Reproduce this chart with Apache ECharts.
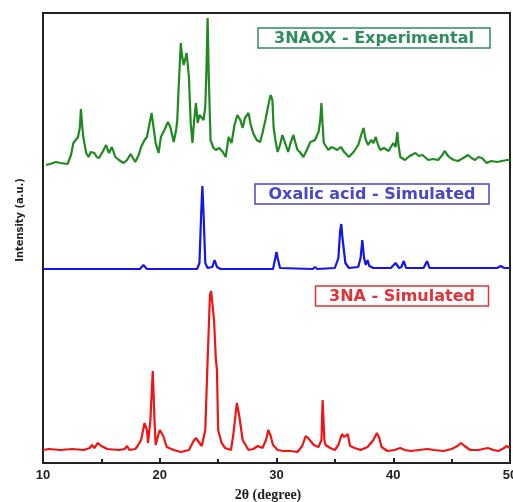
<!DOCTYPE html>
<html>
<head>
<meta charset="utf-8">
<script src="https://cdn.jsdelivr.net/npm/echarts@6/dist/echarts.min.js"></script>
<style>
  html, body { margin: 0; padding: 0; background: #fff; }
  #main { width: 513px; height: 502px; }
</style>
</head>
<body>
<div id="main"></div>
<script>
// 2theta (degree) vs intensity (a.u., with each pattern stacked on an offset)
const xTicks = [10, 20, 30, 40, 50];

const experimental = [
  [10.25,298],[10.6,299],[11.1,301],[11.5,300],[12.1,299],[12.4,308],[12.6,320],[13.0,326],[13.15,335],[13.25,354],
  [13.35,338],[13.45,326],[13.7,310],[13.9,306],[14.1,311],[14.4,310],[14.6,306],[14.8,305],[15.1,311],[15.4,318],
  [15.55,313],[15.65,310],[15.9,316],[16.2,306],[16.5,303],[16.9,300],[17.2,303],[17.5,309],[17.7,305],[17.9,301],
  [18.2,308],[18.4,316],[18.7,323],[18.9,326],[19.1,338],[19.3,350],[19.5,333],[19.65,320],[19.9,310],[20.1,326],
  [20.4,333],[20.7,341],[20.9,336],[21.2,321],[21.4,333],[21.5,343],[21.65,383],[21.8,420],[21.9,408],[22.05,398],
  [22.2,405],[22.3,410],[22.4,398],[22.5,386],[22.65,340],[22.8,320],[22.95,343],[23.1,360],[23.25,340],[23.4,348],
  [23.5,346],[23.75,343],[23.9,356],[24.0,393],[24.1,445],[24.2,386],[24.35,323],[24.6,315],[24.8,313],[25.1,315],
  [25.4,311],[25.65,306],[25.9,326],[26.15,320],[26.4,338],[26.65,348],[26.9,343],[27.1,335],[27.3,345],[27.6,350],
  [27.8,338],[28.0,330],[28.3,323],[28.6,321],[28.8,330],[29.05,343],[29.3,358],[29.5,368],[29.65,363],[29.75,336],
  [29.9,323],[30.1,311],[30.3,318],[30.5,328],[30.65,323],[30.8,323],[31.0,311],[31.2,320],[31.45,328],[31.6,321],
  [31.8,313],[32.0,311],[32.3,306],[32.6,313],[32.9,321],[33.1,322],[33.3,323],[33.6,331],[33.75,343],[33.85,360],
  [33.95,338],[34.05,320],[34.45,313],[34.7,316],[34.9,315],[35.2,313],[35.5,316],[35.8,311],[36.2,306],[36.6,311],
  [37.0,318],[37.25,328],[37.45,335],[37.65,323],[37.85,318],[38.1,323],[38.3,320],[38.5,326],[38.7,318],[38.9,313],
  [39.2,315],[39.6,312],[39.8,316],[40.0,320],[40.2,316],[40.35,331],[40.45,318],[40.6,306],[41.0,303],[41.4,307],
  [41.9,310],[42.2,307],[42.5,308],[43.0,303],[43.4,304],[43.85,303],[44.2,308],[44.4,312],[44.7,307],[44.9,305],
  [45.2,303],[45.55,302],[46.0,305],[46.4,308],[46.7,305],[47.0,303],[47.3,306],[47.6,305],[48.0,300],[48.4,302],
  [48.9,301],[49.3,302],[49.75,303],[50.0,303]
];

const oxalic = [
  [10,194],[18.3,194],[18.6,198],[18.9,194],[23.2,194],[23.4,200],[23.55,250],[23.65,277],[23.75,250],[23.9,200],
  [24.1,195],[24.5,196],[24.7,203],[24.9,196],[25.2,194],[29.7,194],[29.9,205],[30.0,211],[30.1,205],[30.3,195],
  [33.1,194],[33.3,196],[33.5,194],[35.0,195],[35.3,205],[35.45,232],[35.55,239],[35.65,225],[35.9,200],[36.2,195],
  [37.0,196],[37.2,205],[37.35,223],[37.5,205],[37.65,198],[37.8,203],[37.95,197],[38.3,195],[39.8,195],[40.2,200],
  [40.5,195],[40.7,196],[40.9,202],[41.1,195],[42.6,195],[42.9,202],[43.1,195],[48.9,195],[49.2,197],[49.5,195],[50,195]
];

const nitroaniline = [
  [10.0,13],[10.5,14],[11.5,13],[12.5,14],[13.5,13],[14.0,15],[14.2,18],[14.4,15],[14.7,20],[15.0,17],
  [15.5,14],[16.5,13],[17.0,14],[17.2,17],[17.4,13],[17.9,14],[18.1,17],[18.4,23],[18.7,40],[18.9,33],
  [19.0,20],[19.2,43],[19.4,92],[19.55,43],[19.65,18],[19.8,25],[20.0,33],[20.3,27],[20.6,16],[21.2,13],
  [21.8,11],[22.5,13],[22.9,22],[23.1,25],[23.4,20],[23.6,17],[23.9,33],[24.1,103],[24.3,168],[24.4,172],
  [24.55,170],[24.65,143],[24.8,105],[24.9,93],[25.0,33],[25.3,20],[25.6,15],[26.1,13],[26.3,28],[26.6,60],
  [26.8,48],[27.1,23],[27.6,13],[28.0,14],[28.4,17],[28.8,15],[29.1,23],[29.3,33],[29.5,27],[29.7,18],
  [30.1,13],[30.6,12],[31.2,12],[31.8,11],[32.2,17],[32.5,27],[32.7,25],[33.2,18],[33.6,16],[33.85,23],
  [33.95,63],[34.1,23],[34.2,18],[34.6,15],[35.0,13],[35.3,18],[35.6,29],[35.8,26],[36.1,29],[36.3,17],
  [36.7,15],[37.2,13],[37.8,16],[38.3,23],[38.6,30],[38.8,25],[39.0,16],[39.5,12],[40.1,13],[40.6,15],
  [41.0,13],[41.5,12],[42.2,13],[42.9,14],[43.5,13],[44.3,12],[45.0,14],[45.5,17],[45.8,20],[46.1,17],
  [46.6,13],[47.3,13],[48.1,15],[48.6,13],[49.0,12],[49.5,15],[49.7,17],[50.0,15]
];

const seriesNames = ['3NAOX - Experimental', 'Oxalic acid - Simulated', '3NA - Simulated'];

let chartDom = document.getElementById('main'),
    myChart = echarts.init(chartDom),
    option;

function lineSeries(name, data, color) {
  return {
    name: name,
    type: 'line',
    data: data,
    showSymbol: false,
    symbol: 'none',
    lineStyle: { color: color, width: 2.2 },
    itemStyle: { color: color },
    animation: false
  };
}

function boxLabel(text, x, y, w, color) {
  // text plus its outline box
  return {
    type: 'group',
    children: [
      {
        type: 'rect',
        shape: { x: x - w / 2, y: y - 10, width: w, height: 20 },
        style: { fill: '#fff', stroke: color, lineWidth: 1.5 }
      },
      {
        type: 'text',
        x: x,
        y: y + 1,
        style: {
          text: text,
          fill: color,
          font: 'bold 16px "DejaVu Sans"',
          align: 'center',
          verticalAlign: 'middle'
        }
      }
    ]
  };
}

option = {
  backgroundColor: '#fff',
  animation: false,
  grid: {
    left: 43, right: 3, top: 13, bottom: 39,
    outerBoundsMode: 'none',
    containLabel: false,
    show: true,
    borderColor: '#222',
    borderWidth: 2
  },
  xAxis: {
    type: 'value',
    min: xTicks[0],
    max: xTicks[xTicks.length - 1],
    interval: 10,
    axisLine: { lineStyle: { color: '#222', width: 2 } },
    axisTick: { inside: true, length: 5, lineStyle: { color: '#222', width: 2 } },
    minorTick: { show: true, splitNumber: 2, length: 4, lineStyle: { color: '#222', width: 2 } },
    splitLine: { show: false },
    axisLabel: {
      margin: 6,
      color: '#222',
      fontFamily: 'Liberation Sans',
      fontWeight: 'bold',
      fontSize: 13
    }
  },
  yAxis: {
    type: 'value',
    min: 0,
    max: 450,
    axisLine: { show: true, lineStyle: { color: '#222', width: 2 } },
    axisTick: { show: false },
    axisLabel: { show: false },
    splitLine: { show: false }
  },
  series: [
    lineSeries(seriesNames[0], experimental, '#1f8a1f'),
    lineSeries(seriesNames[1], oxalic, '#1414f0'),
    lineSeries(seriesNames[2], nitroaniline, '#f01414')
  ],
  graphic: [
    boxLabel(seriesNames[0], 374, 38, 232, '#2f8c5c'),
    boxLabel(seriesNames[1], 372, 194, 234, '#4747c8'),
    boxLabel(seriesNames[2], 402, 296, 173, '#e23238'),
    {
      type: 'text',
      x: 20,
      y: 220,
      rotation: Math.PI / 2,
      style: {
        text: 'Intensity (a.u.)',
        fill: '#222',
        font: 'bold 11px "DejaVu Sans Condensed"',
        align: 'center',
        verticalAlign: 'middle'
      }
    },
    {
      type: 'text',
      x: 268,
      y: 495,
      style: {
        text: '2θ (degree)',
        fill: '#222',
        font: 'bold 14px "Liberation Serif"',
        align: 'center',
        verticalAlign: 'middle'
      }
    }
  ]
};

option && myChart.setOption(option);
</script>
</body>
</html>
